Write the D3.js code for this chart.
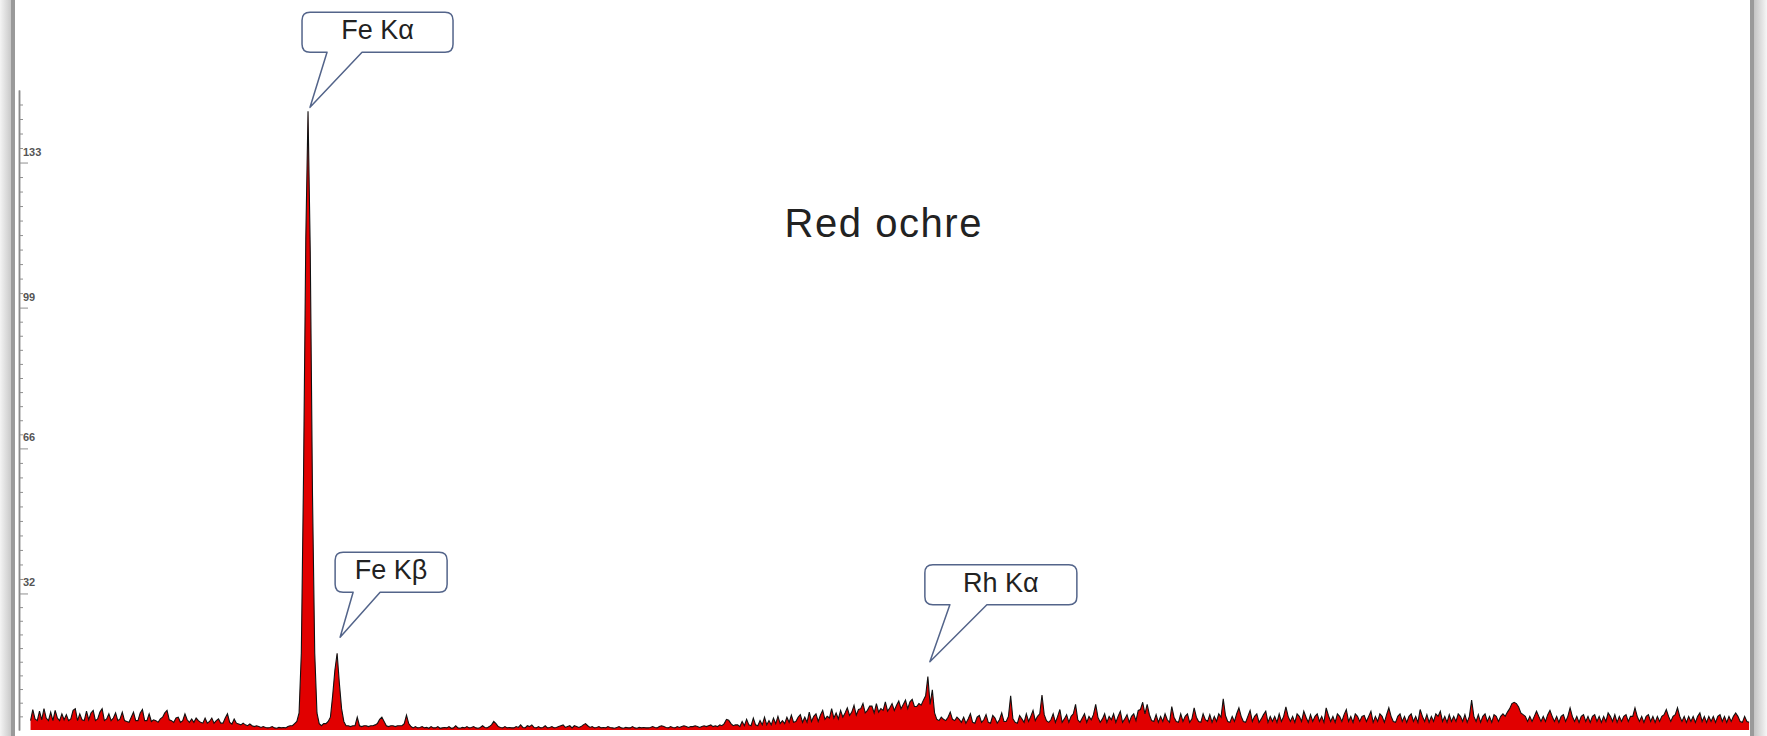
<!DOCTYPE html>
<html><head><meta charset="utf-8">
<script src="https://cdn.jsdelivr.net/npm/d3@7"></script>
<style>html,body{margin:0;padding:0;background:#fff;overflow:hidden}</style>
</head><body>
<svg id="chart" width="1767" height="736"></svg>
<script>
// ---------------- DATA ----------------
const chartTitle = "Red ochre";
const energyStep = 0.05;              // keV per channel
const firstEnergy = 0.20;             // keV of the first channel
// counts, one row per keV (row 0 starts at 0.20 keV, row k starts at k keV)
const countsByKeV = [
 [2.2,4.8,2.6,2.2,4.4,2.4,5,2.8,2.2,4.2,2.2,4.6,2.8,2.2,3.8,2.4],
 [3.6,2.2,2.6,4.6,5,2.2,3.8,2.4,2.2,4.4,2.4,4,4.6,2.2,2.6,4.2,5,2.2,2.6,3.8],
 [2.2,2.8,4,2.2,2.6,4.2,2.2,2,1.8,3,4.2,2.2,2.2,4,4.8,2.2,2.2,3.8,2,2.4],
 [2.2,1.8,2.6,3,4,4.6,2.4,2.2,1.8,2.8,3,1.8,2.2,3.8,2.4,1.8,2.6,1.8,2.8,2.2],
 [1.8,1.6,2.8,1.6,2,2.8,1.6,2.2,2.6,1.6,1.6,2.8,3.8,1.8,1.4,2.6,1.6,1.4,1.2,1.6],
 [1.2,1,1.4,1,0.8,1,0.8,0.6,0.8,0.6,0.5,0.6,0.8,0.5,0.4,0.6,0.5,0.6,0.5,0.8],
 [1,1,1.5,2,4,18,60,115,145,112,55,18,4,1.5,1,1.5,1.5,2,3,8],
 [14,18,11,5,2,1,1,0.8,1,1,3,1,0.8,1,1,0.8,1,1,1.2,1.5],
 [2.5,3,2,1,0.8,1,1,0.8,1,1,1,1.5,3.5,1.5,0.8,0.5,0.8,0.5,0.6,0.8],
 [0.5,0.6,0.4,0.8,0.5,0.5,0.8,0.4,0.5,0.6,0.5,0.8,0.4,0.5,1,0.5,0.4,0.6,0.5,0.8],
 [0.5,0.6,0.8,0.5,0.4,0.6,1,0.6,0.5,0.8,1.2,2,1.5,0.8,0.6,0.5,0.8,0.5,0.6,0.5],
 [0.5,0.8,0.6,1.2,0.6,0.5,1,0.8,1.2,0.6,0.5,0.8,0.5,0.6,1,0.5,0.6,0.8,0.5,0.6],
 [0.8,1,1.2,0.6,0.8,1,0.5,1,0.8,0.6,0.8,1.2,1.5,1,0.6,0.8,0.5,0.6,0.8,0.5],
 [0.6,0.5,0.8,0.6,0.5,0.4,0.6,0.8,0.5,0.4,0.6,0.5,0.5,0.8,0.5,0.4,0.6,0.5,0.6,0.5],
 [0.5,0.6,0.8,0.6,0.5,0.8,1,0.8,0.6,0.5,0.8,0.6,0.5,0.8,0.6,0.8,1,0.8,0.6,0.8],
 [0.8,1,0.8,0.6,0.8,1,0.8,1,1.2,0.8,1,0.8,1.2,1,1.5,2.5,2.3,1.5,1,1.2],
 [1.2,0.8,2,1,2.5,1.2,1,2.8,1.2,1,2.2,1.2,3,1.2,2.2,1.2,2.8,1.5,3.2,1.5],
 [2.2,1.5,3,1.8,3.5,1.8,2,3,3.6,1.8,3,1.8,4.2,2,3.2,3.8,2,3.5,4.6,2.5],
 [3.2,2.8,5,2.8,4,2.6,4.6,3,4,5.2,3.4,4.2,5.8,3.5,4.8,5,6.2,4,4.6,5.6],
 [5.6,4,6.2,4.2,5,4.6,6.6,4.4,5.2,6.2,4.6,5.8,6.8,5,6,7,5,6.6,7.2,5.5],
 [5.5,6.2,5.8,7,8,12.5,6,9.4,4,2.5,2.2,3,2.5,2.2,3,4.2,2.5,2.2,3,2.5],
 [1.8,3,1.6,2.6,3.8,1.8,1.6,3,3.4,1.8,2.4,3.6,1.8,1.6,3.4,2.8,1.6,2.4,4,2],
 [2,3.2,8,2.6,1.8,1.6,3.4,2.6,1.8,3.8,2,3.2,4.6,2.2,3.2,3.8,8.2,3.6,2.2,1.8],
 [2.4,3.8,1.8,3.2,4.8,1.8,2.6,3.6,1.8,3.2,3.8,6,2.4,1.8,2.8,3.8,1.8,3.2,2.4,3.6],
 [6,3,1.8,2.6,3.8,1.8,3.2,2.4,3.8,1.8,3.2,4.4,1.8,2.6,3.6,1.8,3.2,3.8,2.2,4.6],
 [4.8,6.5,3.8,6,3.6,2.2,2,3.6,1.8,3.2,2,3.8,2.4,1.8,5.5,3,2,1.8,3.8,2],
 [3.2,3.8,1.8,2.6,5.2,3,2,1.8,3.8,2.4,2,3.6,1.8,3.2,2,3.8,3,7.3,3.4,2],
 [1.8,3.2,2,3.8,5.2,3.2,2,1.8,3.2,4.6,2,3.2,3.8,1.8,2.6,3.6,4.4,1.8,3.2,2],
 [3.2,1.8,3.8,2,3.2,5.4,3.2,2,3.2,1.8,3.8,3.2,2,4.4,3,1.8,3.6,2,3.2,3.8],
 [2,3.2,1.8,5.2,3.4,2,3.2,1.8,3.8,3.2,2,3.6,4.8,2,3.2,1.8,3.8,3.2,2,3.2],
 [3.4,2,3.2,4.4,1.8,3.2,2,3.8,3.2,1.8,3.6,5.2,3.2,2,1.8,3.2,3.8,2,3.2,1.8],
 [3.2,3.8,2,3.2,1.8,4.8,3.2,2,3.6,1.8,3.2,2,3.8,3.2,4.4,2,3.2,1.8,3.6,2],
 [3.2,2,3.8,3.2,2,3.6,1.8,3.2,7,3.2,2,3.6,1.8,3.2,3.8,2,3.2,1.8,3.6,3.2],
 [2,3.2,3.8,3.2,4.2,5,6.2,6.5,6.2,5.4,4,3.6,3.2,2,3.2,2,3.2,4.4,3.2,2],
 [3.2,2,3.6,4.6,3.2,2,3.2,1.8,3.2,3.6,2,3.2,5.2,3.2,2,3.2,1.8,3.2,3.6,2],
 [3.2,1.8,3.2,3.6,2,3.2,1.8,3.2,2,4,3.2,2,3.6,1.8,3.2,2,3.2,3.6,2,3.2],
 [3.2,5.2,3.2,2,3.2,1.8,3.2,3.6,2,3.2,1.8,3.2,2,3.2,3.6,4.8,3.2,2,3.2,3.6],
 [5.2,3.2,2,3.2,1.8,3.2,2,3.2,1.8,3.2,4,2,3.2,1.8,3.2,2,3.2,1.8,3.2,3.6],
 [2,3.2,1.8,3.2,2,3.2,4,3.2,2,1.8,3.2,2,1.8]
];
const peakLabels   = ["Fe Kα", "Fe Kβ", "Rh Kα"];
const peakEnergies = [6.40, 7.05, 20.25];
const peakCounts   = [145, 18, 12.5];
const yMajorValues = [32, 66, 99, 133];
const yMajorLabels = ["32", "66", "99", "133"];

// ---------------- LAYOUT ----------------
const W = 1767, H = 736;
const plot = {x0: 21.6, x1: 1750, yBase: 730, yTop: 90, axisX: 19};
const calloutLayout = [
  {dxTip: 2, dyTip: -4,  boxDx: -8, boxDy: -95, w: 151, h: 40, tailA: 25, tailB: 60},
  {dxTip: 3, dyTip: -16, boxDx: -5, boxDy: -85, w: 112, h: 40, tailA: 18, tailB: 45},
  {dxTip: 2, dyTip: -15, boxDx: -5, boxDy: -97, w: 152, h: 40, tailA: 25, tailB: 62}
];

const data = [];
countsByKeV.forEach((row, r) => {
  const start = r === 0 ? firstEnergy : r;
  row.forEach((c, j) => data.push({e: Math.round((start + j * energyStep) * 100) / 100, c}));
});

const svg = d3.select("#chart");
const x = d3.scaleLinear().domain([0, 38.62]).range([plot.x0, plot.x1]);
const y = d3.scaleLinear().domain([0, 150]).range([plot.yBase, plot.yTop]);

// frame (left & right borders with soft shading)
const defs = svg.append("defs");
const gl = defs.append("linearGradient").attr("id", "gl").attr("x1", 0).attr("x2", 1);
gl.append("stop").attr("offset", 0).attr("stop-color", "#f4f4f4");
gl.append("stop").attr("offset", 1).attr("stop-color", "#c9c9c9");
const gr = defs.append("linearGradient").attr("id", "gr").attr("x1", 0).attr("x2", 1);
gr.append("stop").attr("offset", 0).attr("stop-color", "#c4c4c4");
gr.append("stop").attr("offset", 1).attr("stop-color", "#f6f6f6");
svg.append("rect").attr("x", 0).attr("y", 0).attr("width", 11).attr("height", H).attr("fill", "url(#gl)");
svg.append("rect").attr("x", 11).attr("y", 0).attr("width", 4).attr("height", H).attr("fill", "#9a9a9a");
svg.append("rect").attr("x", 1750).attr("y", 0).attr("width", 4).attr("height", H).attr("fill", "#9a9a9a");
svg.append("rect").attr("x", 1754).attr("y", 0).attr("width", 13).attr("height", H).attr("fill", "url(#gr)");

// spectrum
const area = d3.area().x(d => x(d.e)).y0(y(0)).y1(d => y(d.c));
const line = d3.line().x(d => x(d.e)).y(d => y(d.c));
svg.append("path").datum(data).attr("d", area).attr("fill", "#e10000");
svg.append("path").datum(data).attr("d", line).attr("fill", "none")
   .attr("stroke", "#111").attr("stroke-width", 1.1).attr("stroke-linejoin", "miter");

// y axis
const minorVals = [];
const bounds = [0, ...yMajorValues];
for (let i = 0; i < bounds.length - 1; i++) {
  for (let k = 1; k < 10; k++) minorVals.push(bounds[i] + (bounds[i + 1] - bounds[i]) * k / 10);
}
for (let v = 133 + 3.4; v <= 150; v += 3.4) minorVals.push(v);
const axG = svg.append("g").attr("transform", `translate(${plot.axisX},0)`);
axG.call(d3.axisRight(y).tickValues(minorVals).tickSize(4).tickSizeOuter(0).tickFormat(""));
const axM = svg.append("g").attr("transform", `translate(${plot.axisX},0)`);
axM.call(d3.axisRight(y).tickValues(yMajorValues).tickSize(9).tickSizeOuter(0)
  .tickFormat((d, i) => yMajorLabels[i]));
svg.selectAll(".domain").attr("stroke", "#8a8a8a").attr("stroke-width", 1.5);
svg.selectAll(".tick line").attr("stroke", "#8f8f8f");
axM.selectAll("text").attr("x", 4).attr("y", -11)
  .attr("font-family", "Liberation Sans, Arial, sans-serif").attr("font-size", 11)
  .attr("font-weight", "bold").attr("fill", "#555");

// title
svg.append("text").attr("x", 883).attr("y", 237).attr("text-anchor", "middle")
  .attr("font-family", "Liberation Sans, Arial, sans-serif").attr("font-size", 40)
  .attr("textLength", 197).attr("lengthAdjust", "spacing")
  .attr("fill", "#222").text(chartTitle);

// callouts
peakLabels.forEach((lab, i) => {
  const L = calloutLayout[i];
  const tx = x(peakEnergies[i]) + L.dxTip, ty = y(peakCounts[i]) + L.dyTip;
  const bx = tx + L.boxDx, by = ty + L.boxDy, bw = L.w, bh = L.h, r = 8;
  const a = bx + L.tailA, b = bx + L.tailB;
  const p = d3.path();
  p.moveTo(bx + r, by);
  p.lineTo(bx + bw - r, by);
  p.quadraticCurveTo(bx + bw, by, bx + bw, by + r);
  p.lineTo(bx + bw, by + bh - r);
  p.quadraticCurveTo(bx + bw, by + bh, bx + bw - r, by + bh);
  p.lineTo(b, by + bh);
  p.lineTo(tx, ty);
  p.lineTo(a, by + bh);
  p.lineTo(bx + r, by + bh);
  p.quadraticCurveTo(bx, by + bh, bx, by + bh - r);
  p.lineTo(bx, by + r);
  p.quadraticCurveTo(bx, by, bx + r, by);
  p.closePath();
  svg.append("path").attr("d", p.toString()).attr("fill", "#fff")
    .attr("stroke", "#53648a").attr("stroke-width", 1.5).attr("stroke-linejoin", "round");
  svg.append("text").attr("x", bx + bw / 2).attr("y", by + 27).attr("text-anchor", "middle")
    .attr("font-family", "Liberation Sans, Arial, sans-serif").attr("font-size", 27)
    .attr("fill", "#222").text(lab);
});
</script>
</body></html>
